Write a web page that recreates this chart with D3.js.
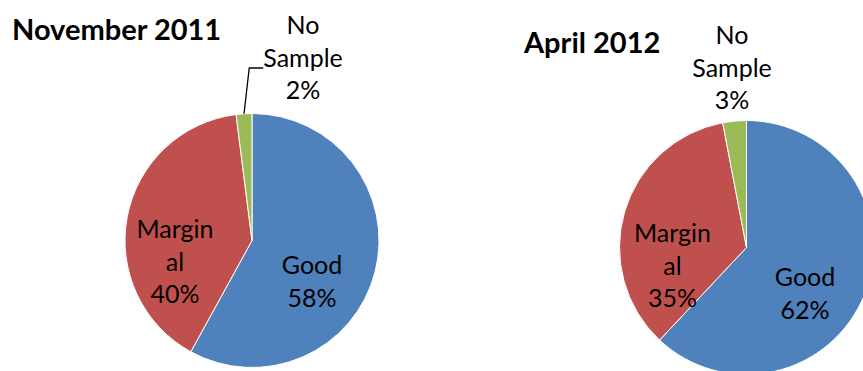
<!DOCTYPE html>
<html>
<head>
<meta charset="utf-8">
<script src="https://cdn.jsdelivr.net/npm/d3@7"></script>
<style>
  body { margin: 0; background: #fff; }
  svg { display: block; font-family: Lato, "Liberation Sans", sans-serif; }
</style>
</head>
<body>
<svg width="863" height="371"></svg>
<script>
// data
const categories = ["Good", "Marginal", "No Sample"];
const labelLines = [["Good"], ["Margin", "al"], ["No", "Sample"]];
const titles = ["November 2011", "April 2012"];
const nov2011 = [58, 40, 2];
const apr2012 = [62, 35, 3];

const colors = ["#4F81BD", "#C0504D", "#9BBB59"];

const svg = d3.select("svg");
const width = +svg.attr("width");
const height = +svg.attr("height");

// layout for each pie: centre, radius, title spot, label anchors (offset from centre)
const layouts = [
    {
        cx: 252, cy: 240.5, r: 127,
        title: { x: 12, y: 40 },
        labels: [[60, 33.5], [-77, -2.5], [51, -206.5]],
        leader: true
    },
    {
        cx: 746.5, cy: 247.5, r: 127,
        title: { x: 524, y: 53 },
        labels: [[58.5, 38.5], [-74, -5.5], [-14.5, -203.5]],
        leader: false
    }
];

const lineGap = 32.5;
const labelSize = 25;

const pie = d3.pie().sort(null).value(d => d);

function drawPie(values, title, lay) {
    const g = svg.append("g")
        .attr("transform", `translate(${lay.cx},${lay.cy})`);

    const arc = d3.arc().innerRadius(0).outerRadius(lay.r);
    const arcs = pie(values);

    g.selectAll("path")
        .data(arcs)
        .enter().append("path")
        .attr("d", arc)
        .attr("fill", (d, i) => colors[i])
        .attr("stroke", "#fff")
        .attr("stroke-width", 1);

    svg.append("text")
        .attr("x", lay.title.x)
        .attr("y", lay.title.y)
        .attr("font-size", 29)
        .attr("font-weight", "bold")
        .attr("fill", "#000")
        .text(title);

    arcs.forEach((a, i) => {
        const [dx, dy] = lay.labels[i];
        const lines = labelLines[i].concat([a.value + "%"]);
        const t = g.append("text")
            .attr("text-anchor", "middle")
            .attr("font-size", labelSize)
            .attr("fill", "#000");
        lines.forEach((s, k) => {
            t.append("tspan")
                .attr("x", dx)
                .attr("y", dy + k * lineGap)
                .text(s);
        });

        // leader line for the small slice on the first pie
        if (lay.leader && i === 2) {
            const mid = (a.startAngle + a.endAngle) / 2;
            const p0 = [Math.sin(mid) * lay.r, -Math.cos(mid) * lay.r];
            const sw = t.select("tspan:nth-child(2)").node().getComputedTextLength();
            const yLine = dy + lineGap + 1.5;
            const xEnd = dx - sw / 2;
            g.append("polyline")
                .attr("points", [p0, [xEnd - 14, yLine], [xEnd, yLine]].map(p => p.join(",")).join(" "))
                .attr("fill", "none")
                .attr("stroke", "#000")
                .attr("stroke-width", 1.3);
        }
    });
}

drawPie(nov2011, titles[0], layouts[0]);
drawPie(apr2012, titles[1], layouts[1]);
</script>
</body>
</html>
